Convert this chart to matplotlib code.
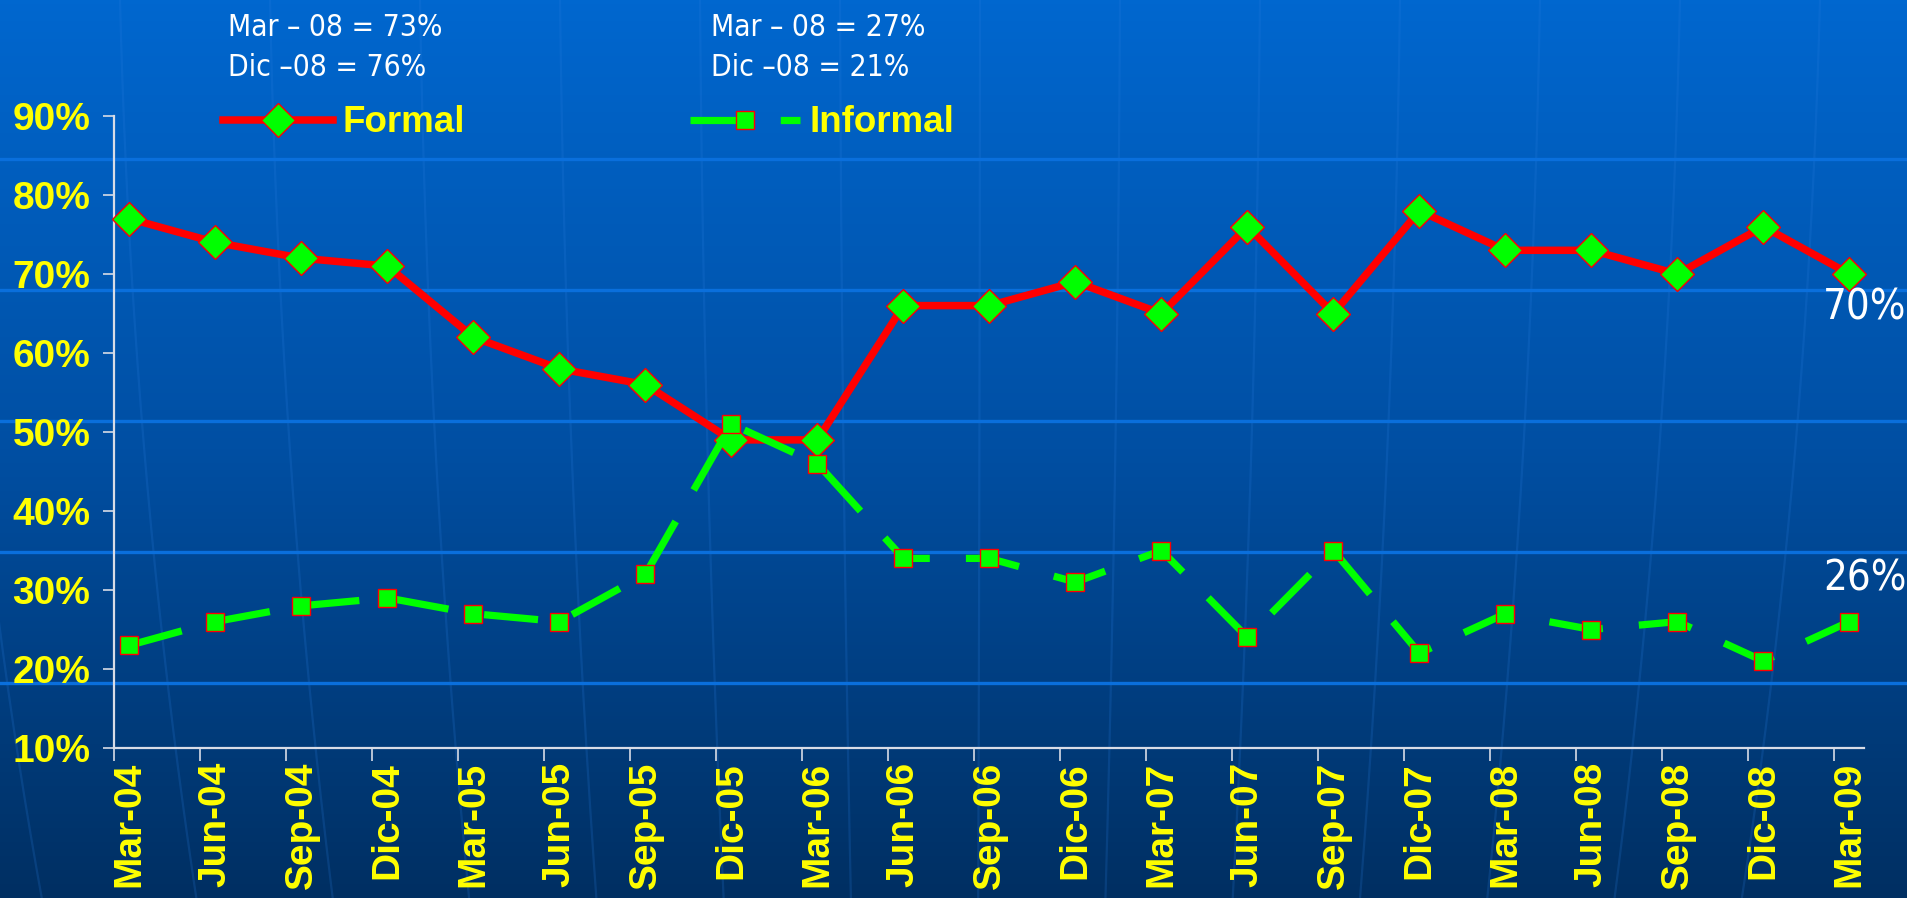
import numpy as np
import matplotlib
matplotlib.use("Agg")
import matplotlib.pyplot as plt
from matplotlib.colors import LinearSegmentedColormap

# ---------------- data ----------------
categories = ["Mar-04", "Jun-04", "Sep-04", "Dic-04", "Mar-05", "Jun-05", "Sep-05",
              "Dic-05", "Mar-06", "Jun-06", "Sep-06", "Dic-06", "Mar-07", "Jun-07",
              "Sep-07", "Dic-07", "Mar-08", "Jun-08", "Sep-08", "Dic-08", "Mar-09"]
formal = [77, 74, 72, 71, 62, 58, 56, 49, 49, 66, 66, 69, 65, 76, 65, 78, 73, 73, 70, 76, 70]
informal = [23, 26, 28, 29, 27, 26, 32, 51, 46, 34, 34, 31, 35, 24, 35, 22, 27, 25, 26, 21, 26]
series_names = ["Formal", "Informal"]
y_ticks = [10, 20, 30, 40, 50, 60, 70, 80, 90]
y_tick_labels = [f"{v}%" for v in y_ticks]
note_formal = ["Mar \u2013 08 = 73%", "Dic \u201308 = 76%"]
note_informal = ["Mar \u2013 08 = 27%", "Dic \u201308 = 21%"]

# ---------------- figure ----------------
W, H = 1908, 898
fig = plt.figure(figsize=(W / 100, H / 100), dpi=100)

# background gradient
bg = fig.add_axes([0, 0, 1, 1], zorder=-10)
bg.set_axis_off()
cmap = LinearSegmentedColormap.from_list(
    "bg", [(0.0, "#0067cf"), (0.5, "#004fa3"), (1.0, "#002f62")])
grad = np.linspace(0, 1, 256).reshape(-1, 1)
bg.imshow(grad, aspect="auto", cmap=cmap, extent=[0, W, H, 0])
bg.set_xlim(0, W)
bg.set_ylim(H, 0)
# decorative horizontal bands
for yy in [159, 290, 421, 552, 683]:
    bg.axhline(yy, color="#0a6fdc", lw=2.4, zorder=1)
# faint globe meridians
yy = np.linspace(0, H, 200)
cx, cy, R = 960, -200, 2600
lat = np.arcsin(np.clip((yy - cy) / R, -1, 1))
for d in [-1010, -840, -690, -540, -400, -260, -120, 20, 160, 300, 440, 580, 720, 860]:
    xx = cx + d * np.cos(lat) / np.cos(lat[0])
    bg.plot(xx, yy, color="#2a7ee0", lw=1.6, alpha=0.2, zorder=0.5)

# ---------------- main axes ----------------
left, right = 114 / W, 1864 / W
bottom, top = 1 - 748 / H, 1 - 116 / H
ax = fig.add_axes([left, bottom, right - left, top - bottom])
ax.patch.set_alpha(0)

x = np.arange(len(categories))
ln_f, = ax.plot(x, formal, color="#ff0000", lw=5.4, marker="D", ms=17,
                mfc="#00ff00", mec="#ff0000", mew=1.0, zorder=3,
                solid_joinstyle="round", clip_on=False)
ln_i, = ax.plot(x, informal, color="#00ff00", lw=5.2, ls=(0, (7.5, 5)),
                marker="s", ms=12.5, mfc="#00ff00", mec="#ff0000", mew=1.0,
                zorder=4, clip_on=False)

ax.set_xlim(-0.18, 20.17)
ax.set_ylim(10, 90)

for s in ["top", "right"]:
    ax.spines[s].set_visible(False)
for s in ["left", "bottom"]:
    ax.spines[s].set_color("#d8dce6")
    ax.spines[s].set_linewidth(1.6)

ax.set_yticks(y_ticks)
ax.set_yticklabels(y_tick_labels)
ax.tick_params(axis="y", direction="out", length=8, width=1.2, colors="#d8dce6",
               pad=9, labelcolor="#ffff00", labelsize=28)
ax.set_xticks(x)
ax.set_xticklabels(categories, rotation=90)
ax.tick_params(axis="x", which="major", length=0, pad=10,
               labelcolor="#ffff00", labelsize=28)
ax.set_xticks(x - 0.18, minor=True)
ax.tick_params(axis="x", which="minor", direction="out", length=9, width=1.2,
               colors="#d8dce6")
for lab in ax.get_xticklabels() + ax.get_yticklabels():
    lab.set_fontfamily("Liberation Sans")
    lab.set_fontweight("bold")

# end-point labels
ax.annotate(f"{formal[-1]}%", xy=(x[-1], formal[-1]), xytext=(11, -24),
            textcoords="offset points", ha="center", va="center",
            color="white", fontsize=30, family="DejaVu Sans",
            fontstretch="condensed", annotation_clip=False)
ax.annotate(f"{informal[-1]}%", xy=(x[-1], informal[-1]), xytext=(11, 31),
            textcoords="offset points", ha="center", va="center",
            color="white", fontsize=30, family="DejaVu Sans",
            fontstretch="condensed", annotation_clip=False)

# legend
fig.legend([ln_f, ln_i], series_names, ncol=2, loc="center left",
           bbox_to_anchor=(223 / W, 1 - 123 / H), frameon=False,
           handlelength=3.0, handletextpad=0.25, columnspacing=6.1,
           borderpad=0, borderaxespad=0, numpoints=1,
           prop={"family": "Liberation Sans", "weight": "bold", "size": 26.5},
           labelcolor="#ffff00")

# top notes
for i, (a, b) in enumerate(zip(note_formal, note_informal)):
    yv = 1 - (27 + 40 * i) / H
    fig.text(228 / W, yv, a, color="white", fontsize=21.5, family="DejaVu Sans",
             fontstretch="condensed", va="center", ha="left")
    fig.text(711 / W, yv, b, color="white", fontsize=21.5, family="DejaVu Sans",
             fontstretch="condensed", va="center", ha="left")

fig.savefig("out.png", dpi=100)
